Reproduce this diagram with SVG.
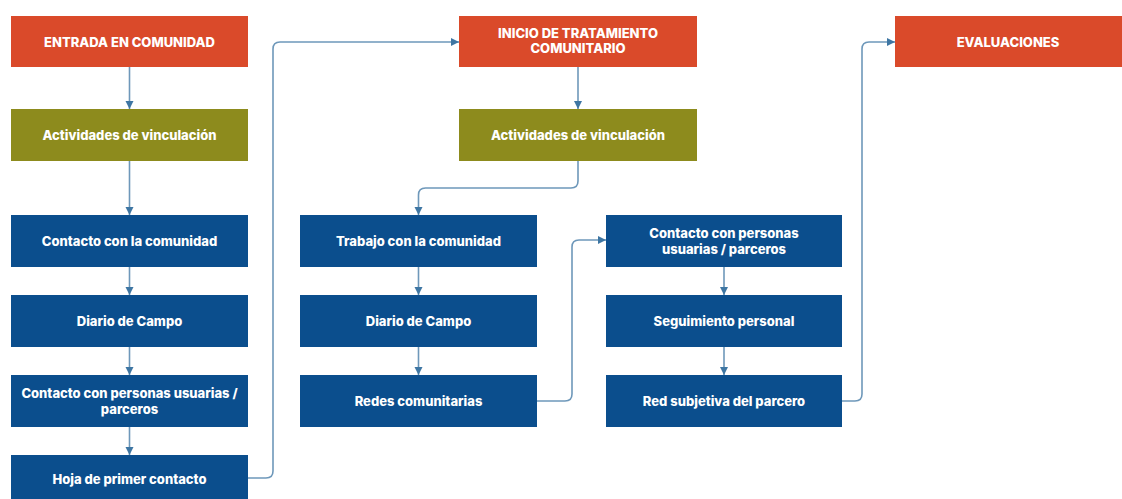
<svg xmlns="http://www.w3.org/2000/svg" width="1122" height="499" viewBox="0 0 1122 499">
<defs>
<style>
.red{fill:#DA4A2A}
.olive{fill:#8D8B1D}
.blue{fill:#0B4E8D}
text{font-family:Inter,"Liberation Sans",sans-serif;font-weight:800;font-size:13px;fill:#ffffff;text-anchor:middle;dominant-baseline:central}
.c{fill:none;stroke:#6E98BA;stroke-width:1.6}
</style>
<marker id="ah" markerUnits="userSpaceOnUse" markerWidth="9" markerHeight="9" refX="8" refY="4" orient="auto" viewBox="0 0 9 8">
<path d="M0,0 L8,4 L0,8 z" fill="#3E76A3"/>
</marker>
</defs>
<rect width="1122" height="499" fill="#ffffff"/>
<g id="connectors">
<path class="c" d="M129.5,67 V109" marker-end="url(#ah)"/>
<path class="c" d="M129.5,161 V215" marker-end="url(#ah)"/>
<path class="c" d="M129.5,267 V295" marker-end="url(#ah)"/>
<path class="c" d="M129.5,347 V375" marker-end="url(#ah)"/>
<path class="c" d="M129.5,427 V455" marker-end="url(#ah)"/>
<path class="c" d="M248,478 H266 Q273,478 273,471 V49 Q273,42 280,42 H459" marker-end="url(#ah)"/>
<path class="c" d="M578,67 V109" marker-end="url(#ah)"/>
<path class="c" d="M578,161 V181 Q578,188 571,188 H425.5 Q418.5,188 418.5,195 V215" marker-end="url(#ah)"/>
<path class="c" d="M418.5,267 V295" marker-end="url(#ah)"/>
<path class="c" d="M418.5,347 V375" marker-end="url(#ah)"/>
<path class="c" d="M537,401 H565 Q572,401 572,394 V247 Q572,240 579,240 H606" marker-end="url(#ah)"/>
<path class="c" d="M724,267 V295" marker-end="url(#ah)"/>
<path class="c" d="M724,347 V375" marker-end="url(#ah)"/>
<path class="c" d="M842,401 H855 Q862,401 862,394 V49 Q862,42 869,42 H895" marker-end="url(#ah)"/>
</g>
<g id="n1"><rect class="red" x="11" y="16" width="237" height="51"/><text x="129.5" y="42">ENTRADA EN COMUNIDAD</text></g>
<g id="n2"><rect class="olive" x="11" y="109" width="237" height="52"/><text x="129.5" y="135">Actividades de vinculación</text></g>
<g id="n3"><rect class="blue" x="11" y="215" width="237" height="52"/><text x="129.5" y="241">Contacto con la comunidad</text></g>
<g id="n4"><rect class="blue" x="11" y="295" width="237" height="52"/><text x="129.5" y="321">Diario de Campo</text></g>
<g id="n5"><rect class="blue" x="11" y="375" width="237" height="52"/><text x="129.5" y="393">Contacto con personas usuarias /</text><text x="129.5" y="409">parceros</text></g>
<g id="n6"><rect class="blue" x="11" y="455" width="237" height="52"/><text x="129.5" y="479">Hoja de primer contacto</text></g>
<g id="n7"><rect class="red" x="459" y="16" width="238" height="51"/><text x="578" y="33">INICIO DE TRATAMIENTO</text><text x="578" y="48">COMUNITARIO</text></g>
<g id="n8"><rect class="olive" x="459" y="109" width="238" height="52"/><text x="578" y="135">Actividades de vinculación</text></g>
<g id="n9"><rect class="blue" x="300" y="215" width="237" height="52"/><text x="418.5" y="241">Trabajo con la comunidad</text></g>
<g id="n10"><rect class="blue" x="300" y="295" width="237" height="52"/><text x="418.5" y="321">Diario de Campo</text></g>
<g id="n11"><rect class="blue" x="300" y="375" width="237" height="52"/><text x="418.5" y="401">Redes comunitarias</text></g>
<g id="n12"><rect class="blue" x="606" y="215" width="236" height="52"/><text x="724" y="233">Contacto con personas</text><text x="724" y="249">usuarias / parceros</text></g>
<g id="n13"><rect class="blue" x="606" y="295" width="236" height="52"/><text x="724" y="321">Seguimiento personal</text></g>
<g id="n14"><rect class="blue" x="606" y="375" width="236" height="52"/><text x="724" y="401">Red subjetiva del parcero</text></g>
<g id="n15"><rect class="red" x="895" y="16" width="227" height="51"/><text x="1008" y="42">EVALUACIONES</text></g>
</svg>
